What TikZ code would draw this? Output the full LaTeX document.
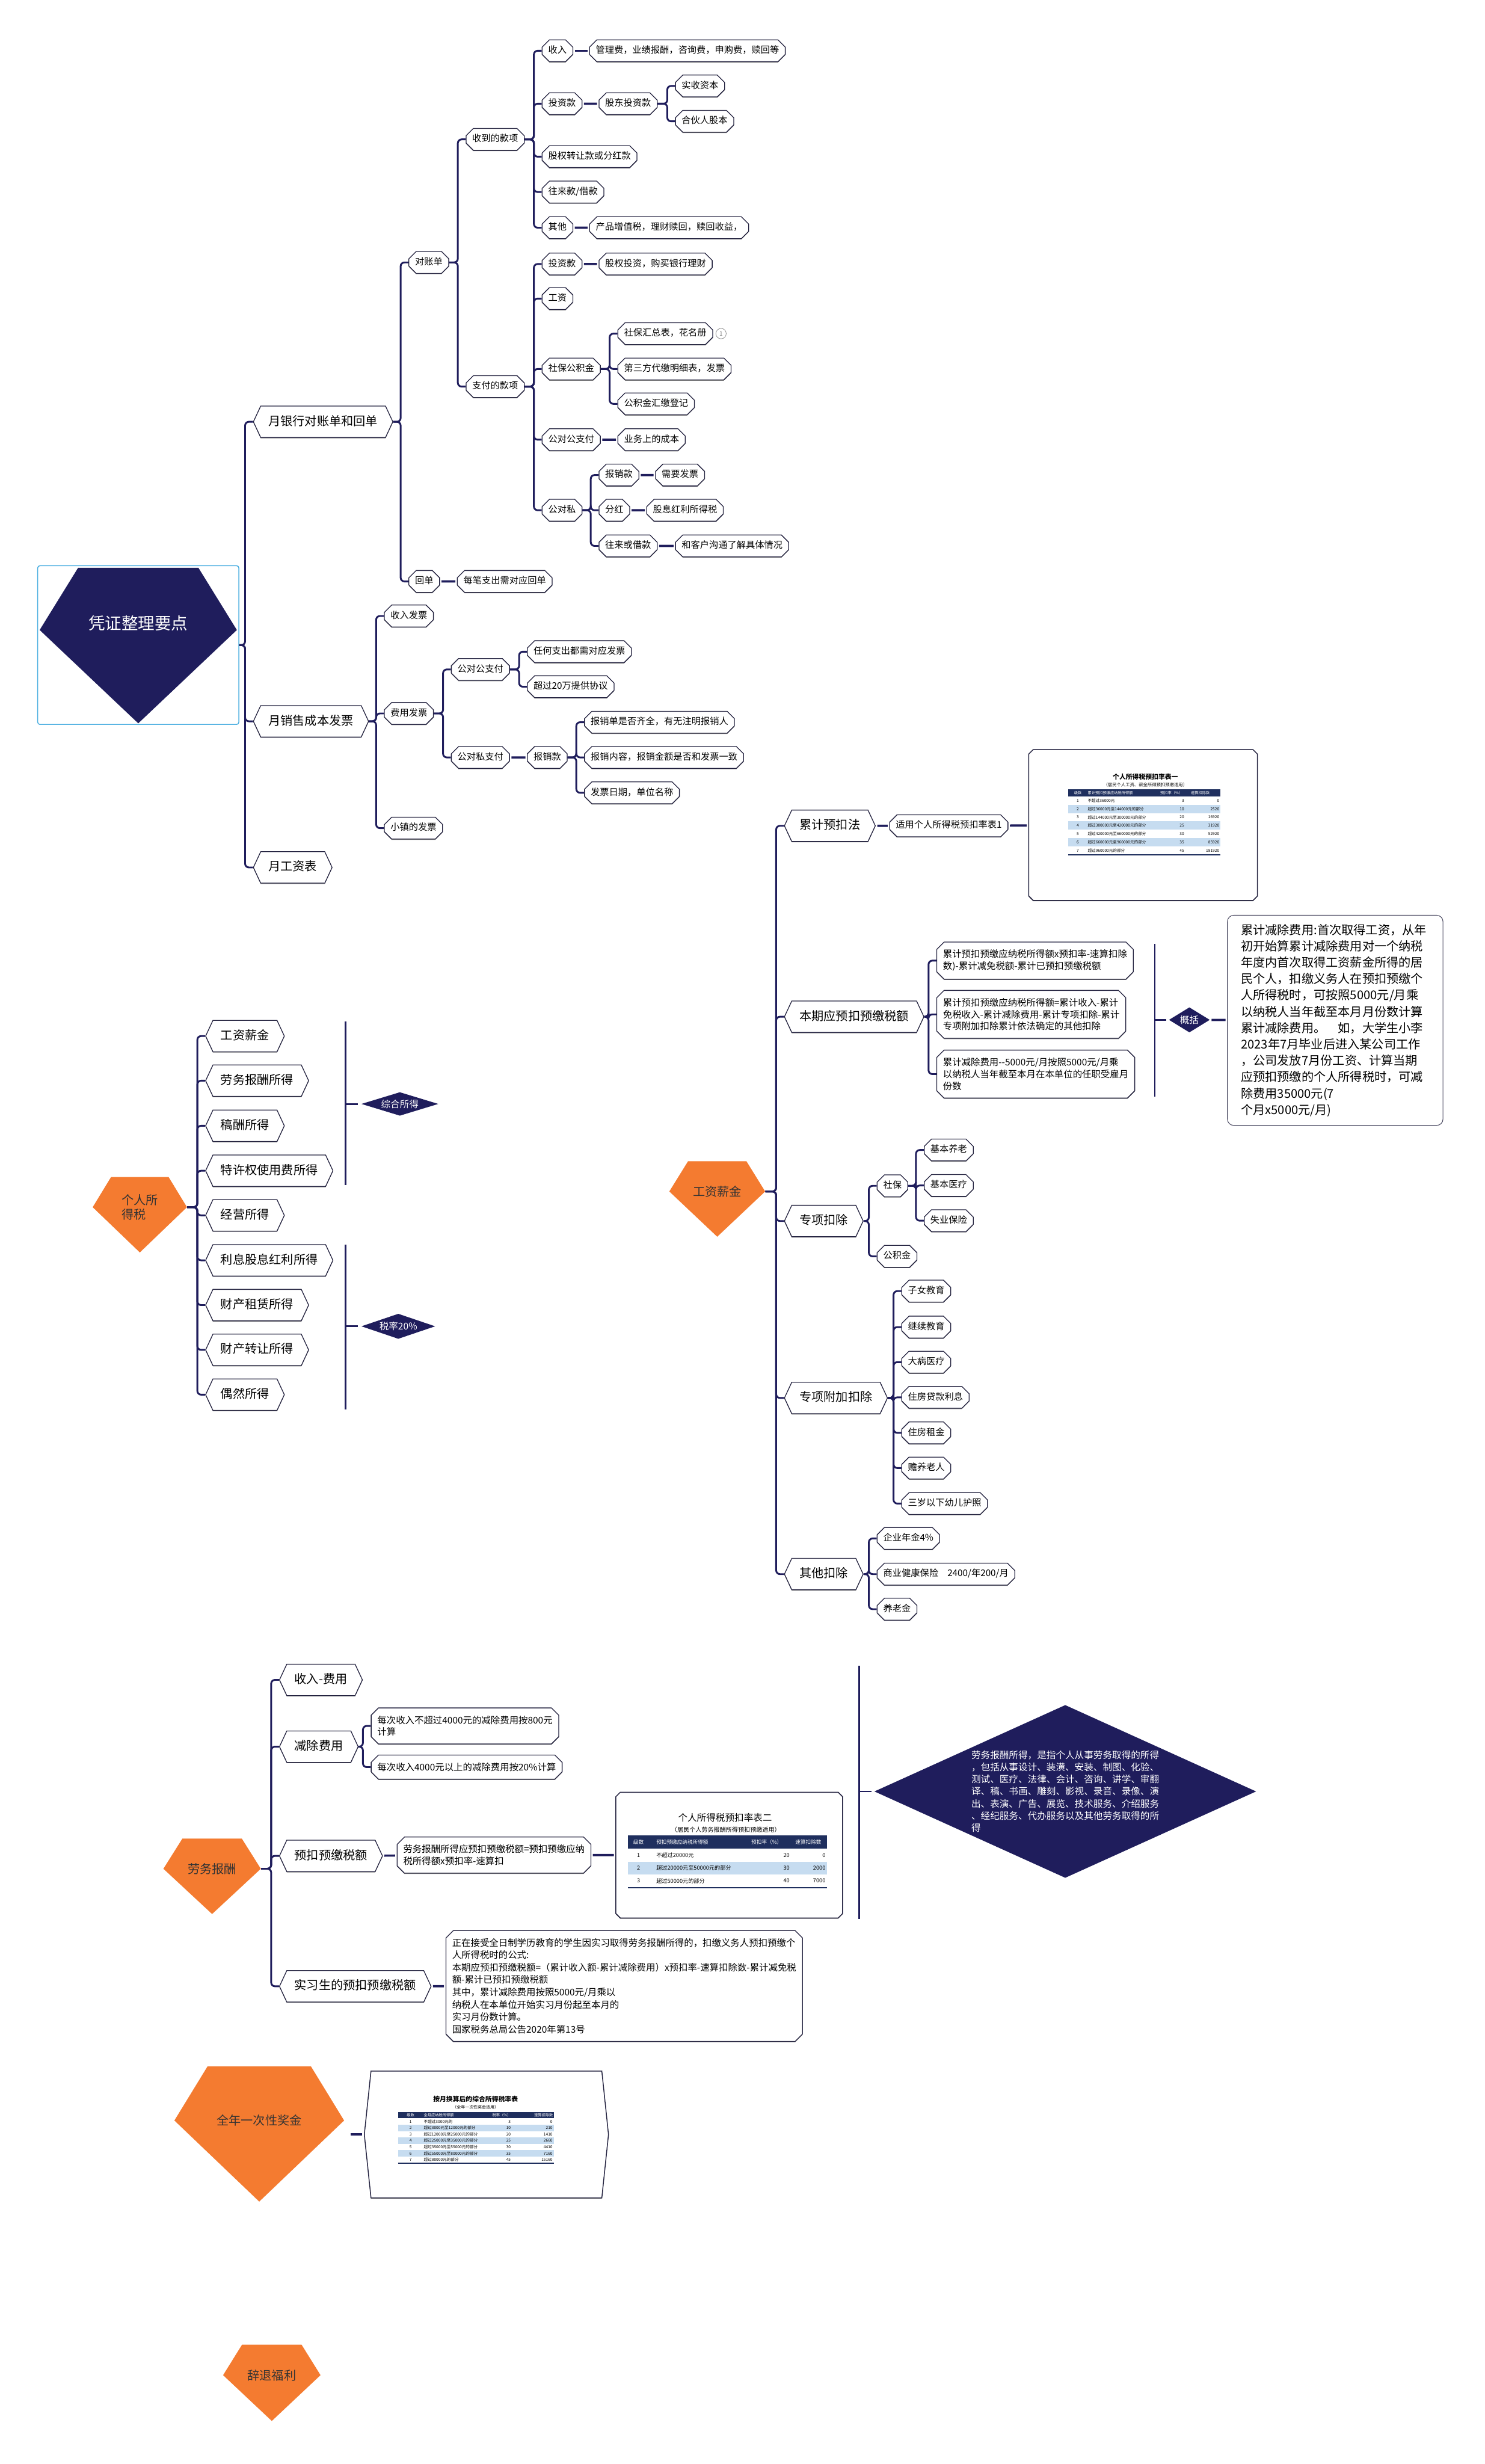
\documentclass[tikz,border=0pt]{standalone}
\usepackage{fontspec}
\setmainfont{Noto Sans CJK SC}
\usetikzlibrary{shapes.misc,shapes.geometric,shapes.symbols,calc,shadows,positioning}
\definecolor{navy}{HTML}{1F1D5C}
\definecolor{gemorange}{HTML}{F47B30}
\definecolor{rootblue}{HTML}{4AAEE0}
\definecolor{rowblue}{HTML}{C6DCF0}
\definecolor{headnavy}{HTML}{1F2F5E}
\definecolor{edge}{HTML}{23223F}
\newcommand{\leaffont}{\fontsize{8.3}{10}\selectfont}
\newcommand{\branchfont}{\fontsize{11}{13}\selectfont}
\newcommand{\boxfont}{\fontsize{8.4}{10.8}\selectfont}
\newcommand{\notefont}{\fontsize{11}{14.8}\selectfont}
\tikzset{
  link/.style={draw=navy, line width=1.6pt, rounded corners=1.2mm},
  dash link/.style={draw=navy, line width=2pt, shorten <=.5mm, shorten >=.5mm},
  node shadow/.style={drop shadow={shadow xshift=0pt, shadow yshift=-.7pt, opacity=.5, fill=black}},
  octo/.style={chamfered rectangle, chamfered rectangle xsep=2.6pt, chamfered rectangle ysep=4pt,
    draw=edge, fill=white, line width=.7pt, anchor=west, node shadow},
  leaf/.style={octo, font=\leaffont, text height=6.2pt, text depth=1.6pt, inner xsep=3pt, inner ysep=2pt, minimum height=6.5mm},
  text box/.style={octo, font=\boxfont, align=left, inner xsep=3pt, inner ysep=3pt},
  branch/.style={signal, signal to=east and west, signal pointer angle=130, draw=edge, fill=white,
    line width=.7pt, font=\branchfont, text height=8.5pt, text depth=2pt, inner xsep=7pt,
    minimum height=10mm, anchor=west, node shadow},
  gem text/.style={inner sep=0pt, minimum height=1mm, font=\branchfont, text=black!80},
  tag/.style={diamond, fill=navy, text=white, font=\fontsize{8.5}{11}\selectfont, inner sep=0pt},
  tab frame/.style={octo, chamfered rectangle sep=2pt, line width=.8pt},
  cell/.style={inner sep=.3pt},
}
% gem: name, centre x, top y, width, height, colour, text style, text
\newcommand{\gem}[8]{%
  \fill[#6] ({#2-0.305*#4},#3) -- ({#2+0.305*#4},#3) -- ({#2+0.5*#4},{#3+0.4*#5})
    -- (#2,{#3+#5}) -- ({#2-0.5*#4},{#3+0.4*#5}) -- cycle;
  \node[gem text, minimum width=#4*0.5mm, #7] (#1) at (#2,{#3+0.4*#5}) {#8};
}
% brace from a parent to its children
\newcommand{\fork}[2]{%
  \foreach \kid in {#2}
    \draw[link] (#1.east) -- ($(\kid.west |- #1.east)+(-5,0)$) |- (\kid.west);
}
\begin{document}
\begin{tikzpicture}[x=0.5mm, y=-0.5mm]
  \useasboundingbox (0,0) rectangle (945,1568);
  \fill[white] (0,0) rectangle (945,1568);

  % ---------- 凭证整理要点
  \node[draw=rootblue, line width=.8pt, rounded corners=2pt, fill=white,
    minimum width=64mm, minimum height=50.5mm] (root) at (88,410.5) {};
  \gem{rootgem}{88}{361.3}{125.5}{99}{navy}{text=white, font=\fontsize{15}{18}\selectfont, yshift=2.1mm}{凭证整理要点}

  \node[branch] (bank) at (161,268.4) {月银行对账单和回单};
  \node[branch] (sales) at (161,459) {月销售成本发票};
  \node[branch] (payroll) at (161,552) {月工资表};
  \fork{root}{bank,sales,payroll}

  \node[leaf] (stmt) at (260,167) {对账单};
  \node[leaf] (receipt) at (260,370) {回单};
  \node[leaf] (receiptnote) at (290.8,370) {每笔支出需对应回单};
  \fork{bank}{stmt,receipt}
  \draw[dash link] (receipt) -- (receiptnote);

  \node[leaf] (recv) at (296.4,88.7) {收到的款项};
  \node[leaf] (paid) at (296.4,246) {支付的款项};
  \fork{stmt}{recv,paid}

  \node[leaf] (recvinc) at (344.8,32.3) {收入};
  \node[leaf] (recvfees) at (375,32.3) {管理费，业绩报酬，咨询费，申购费，赎回等};
  \node[leaf] (recvinv) at (344.8,66) {投资款};
  \node[leaf] (recvholder) at (381,66) {股东投资款};
  \node[leaf] (paidin) at (429.7,54.7) {实收资本};
  \node[leaf] (partner) at (429.7,77.2) {合伙人股本};
  \node[leaf] (recvequity) at (344.8,99.7) {股权转让款或分红款};
  \node[leaf] (recvloan) at (344.8,122.2) {往来款/借款};
  \node[leaf] (recvother) at (344.8,144.9) {其他};
  \node[leaf] (recvmisc) at (375,144.9) {产品增值税，理财赎回，赎回收益，};
  \fork{recv}{recvinc,recvinv,recvequity,recvloan,recvother}
  \fork{recvholder}{paidin,partner}
  \draw[dash link] (recvinc) -- (recvfees);
  \draw[dash link] (recvinv) -- (recvholder);
  \draw[dash link] (recvother) -- (recvmisc);

  \node[leaf] (paidinv) at (344.8,168) {投资款};
  \node[leaf] (paidinvnote) at (381,168) {股权投资，购买银行理财};
  \node[leaf] (paidwage) at (344.8,190) {工资};
  \node[leaf] (paidsocial) at (344.8,234.8) {社保公积金};
  \node[leaf] (socsum) at (393,212.3) {社保汇总表，花名册};
  \node[circle, draw=gray, inner sep=0pt, minimum size=3.3mm, text=gray,
    font=\fontsize{5.5}{6}\selectfont, right=.8mm of socsum] (socnote) {1};
  \node[leaf] (socthird) at (393,234.8) {第三方代缴明细表，发票};
  \node[leaf] (socfund) at (393,257) {公积金汇缴登记};
  \node[leaf] (paidb2b) at (344.8,279.8) {公对公支付};
  \node[leaf] (paidb2bnote) at (393,279.8) {业务上的成本};
  \node[leaf] (paidb2p) at (344.8,324.7) {公对私};
  \node[leaf] (reimb) at (381,302.3) {报销款};
  \node[leaf] (reimbnote) at (417,302.3) {需要发票};
  \node[leaf] (divid) at (381,324.7) {分红};
  \node[leaf] (dividnote) at (411.4,324.7) {股息红利所得税};
  \node[leaf] (loanp) at (381,347.4) {往来或借款};
  \node[leaf] (loannote) at (429.7,347.4) {和客户沟通了解具体情况};
  \fork{paid}{paidinv,paidwage,paidsocial,paidb2b,paidb2p}
  \fork{paidsocial}{socsum,socthird,socfund}
  \fork{paidb2p}{reimb,divid,loanp}
  \draw[dash link] (paidinv) -- (paidinvnote);
  \draw[dash link] (paidb2b) -- (paidb2bnote);
  \draw[dash link] (reimb) -- (reimbnote);
  \draw[dash link] (divid) -- (dividnote);
  \draw[dash link] (loanp) -- (loannote);

  \node[leaf] (incinv) at (244.4,392) {收入发票};
  \node[leaf] (costinv) at (244.4,454) {费用发票};
  \node[leaf] (towninv) at (244.4,527) {小镇的发票};
  \node[leaf] (costb2b) at (287,426) {公对公支付};
  \node[leaf] (costb2p) at (287,482) {公对私支付};
  \node[leaf] (anyexp) at (335.4,414.7) {任何支出都需对应发票};
  \node[leaf] (overlimit) at (335.4,437) {超过20万提供协议};
  \node[leaf] (costreimb) at (335.4,482) {报销款};
  \node[leaf] (chkform) at (371.8,459.6) {报销单是否齐全，有无注明报销人};
  \node[leaf] (chkamount) at (371.8,482) {报销内容，报销金额是否和发票一致};
  \node[leaf] (chkdate) at (371.8,504.5) {发票日期，单位名称};
  \fork{sales}{incinv,costinv,towninv}
  \fork{costinv}{costb2b,costb2p}
  \fork{costb2b}{anyexp,overlimit}
  \fork{costreimb}{chkform,chkamount,chkdate}
  \draw[dash link] (costb2p) -- (costreimb);

  % ---------- 个人所得税
  \gem{iit}{89}{749}{60}{48}{gemorange}{align=left}{个人所\\得税}
  \node[branch] (itwage) at (130.6,659.3) {工资薪金};
  \node[branch] (itservice) at (130.6,687.7) {劳务报酬所得};
  \node[branch] (itroyalty) at (130.6,716.4) {稿酬所得};
  \node[branch] (itfranchise) at (130.6,745) {特许权使用费所得};
  \node[branch] (itbusiness) at (130.6,773.4) {经营所得};
  \node[branch] (itinterest) at (130.6,802) {利息股息红利所得};
  \node[branch] (itlease) at (130.6,830.5) {财产租赁所得};
  \node[branch] (ittransfer) at (130.6,859) {财产转让所得};
  \node[branch] (itchance) at (130.6,887.5) {偶然所得};
  \fork{iit}{itwage,itservice,itroyalty,itfranchise,itbusiness,itinterest,itlease,ittransfer,itchance}

  \node[tag, minimum width=24.5mm, minimum height=7.5mm, aspect=3.3] (comprehensive) at (254.5,702.5) {综合所得};
  \node[tag, minimum width=23.5mm, minimum height=8mm, aspect=3] (flatrate) at (253.5,844) {税率20\%};
  \coordinate (combtop) at (220,650);
  \coordinate (combbot) at (220,754);
  \coordinate (flattop) at (220,792);
  \coordinate (flatbot) at (220,897);
  \draw[link] (combtop) -- (combbot);
  \draw[link, shorten >=1mm] (combtop |- comprehensive.west) -- (comprehensive.west);
  \draw[link] (flattop) -- (flatbot);
  \draw[link, shorten >=1mm] (flattop |- flatrate.west) -- (flatrate.west);

  % ---------- 工资薪金
  \gem{wage}{456.5}{739}{61}{48}{gemorange}{}{工资薪金}
  \node[branch] (cumul) at (499,525.5) {累计预扣法};
  \node[branch] (current) at (499,647) {本期应预扣预缴税额};
  \node[branch] (special) at (499,777) {专项扣除};
  \node[branch] (extra) at (499,889.6) {专项附加扣除};
  \node[branch] (otherded) at (499,1001.7) {其他扣除};
  \fork{wage}{cumul,current,special,extra,otherded}

  \node[leaf] (cumulnote) at (566,525.5) {适用个人所得税预扣率表1};
  \node[tab frame, minimum width=72.75mm, minimum height=48mm] (ratea) at (654.5,525) {};
  \draw[dash link] (cumul) -- (cumulnote);
  \draw[dash link] (cumulnote) -- (ratea);
  % table one
  \node[cell, font=\fontsize{5.9}{6}\selectfont\bfseries] (rateatitle) at (729,494.5) {个人所得税预扣率表一};
  \node[cell, font=\fontsize{4}{4.5}\selectfont] (rateasub) at (729,499.6) {（居民个人工资、薪金所得预扣预缴适用）};
  \fill[headnavy] (680,502.3) rectangle (776.7,506.8);
  \begin{scope}[every node/.style={cell, text=white, font=\fontsize{3.4}{4}\selectfont}]
    \node (rateah1) at (686,504.6) {级数};
    \node[anchor=west] (rateah2) at (692,504.6) {累计预扣预缴应纳税所得额};
    \node (rateah3) at (745.6,504.6) {预扣率（\%）};
    \node (rateah4) at (764,504.6) {速算扣除数};
  \end{scope}
  \foreach \i/\lab/\r/\d in {1/不超过36000元/3/0, 2/超过36000元至144000元的部分/10/2520,
      3/超过144000元至300000元的部分/20/16920, 4/超过300000元至420000元的部分/25/31920,
      5/超过420000元至660000元的部分/30/52920, 6/超过660000元至960000元的部分/35/85920,
      7/超过960000元的部分/45/181920} {
    \ifodd\i\else\fill[rowblue] (680,{506.8+(\i-1)*5.3}) rectangle (776.7,{506.8+\i*5.3});\fi
    \begin{scope}[every node/.style={cell, font=\fontsize{3.6}{4}\selectfont}]
      \node (ratea-\i-n) at (686,{506.8+(\i-0.5)*5.3}) {\i};
      \node[anchor=west] (ratea-\i-l) at (692,{506.8+(\i-0.5)*5.3}) {\lab};
      \node[anchor=east] (ratea-\i-r) at (754,{506.8+(\i-0.5)*5.3}) {\r};
      \node[anchor=east] (ratea-\i-d) at (776.4,{506.8+(\i-0.5)*5.3}) {\d};
    \end{scope}
  }
  \draw[headnavy, line width=.8pt] (680,544) -- (776.7,544);

  \node[text box] (curA) at (596,611.3) {累计预扣预缴应纳税所得额x预扣率-速算扣除\\数)-累计减免税额-累计已预扣预缴税额};
  \node[text box] (curB) at (596,645.5) {累计预扣预缴应纳税所得额=累计收入-累计\\免税收入-累计减除费用-累计专项扣除-累计\\专项附加扣除累计依法确定的其他扣除};
  \node[text box] (curC) at (596,683.5) {累计减除费用-{}-5000元/月按照5000元/月乘\\以纳税人当年截至本月在本单位的任职受雇月\\份数};
  \fork{current}{curA,curB,curC}
  \coordinate (sumtop) at (735,600.6);
  \coordinate (sumbot) at (735,698);
  \draw[link] (sumtop) -- (sumbot);
  \node[tag, minimum width=13mm, minimum height=8mm, aspect=1.6] (summary) at (757,649) {概括};
  \draw[link, shorten >=.8mm] (sumtop |- summary.west) -- (summary.west);
  \node[draw=edge!80, line width=.6pt, rounded corners=2mm, fill=white, anchor=west, align=left,
    text width=60mm, inner xsep=4.3mm, inner ysep=2.8mm, font=\notefont] (deductnote) at (781,649.3)
    {累计减除费用:首次取得工资，从年\\初开始算累计减除费用对一个纳税\\年度内首次取得工资薪金所得的居\\民个人，扣缴义务人在预扣预缴个\\人所得税时，可按照5000元/月乘\\以纳税人当年截至本月月份数计算\\累计减除费用。\quad 如，大学生小李\\2023年7月毕业后进入某公司工作\\，公司发放7月份工资、计算当期\\应预扣预缴的个人所得税时，可减\\除费用35000元(7\\个月x5000元/月)};
  \draw[dash link] (summary) -- (deductnote);

  \node[leaf] (social) at (558,754.6) {社保};
  \node[leaf] (fund) at (558,799.5) {公积金};
  \node[leaf] (pension) at (588,731.8) {基本养老};
  \node[leaf] (medical) at (588,754.4) {基本医疗};
  \node[leaf] (unemploy) at (588,776.8) {失业保险};
  \fork{special}{social,fund}
  \fork{social}{pension,medical,unemploy}

  \node[leaf] (kids) at (573.7,821.6) {子女教育};
  \node[leaf] (contedu) at (573.7,844.5) {继续教育};
  \node[leaf] (illness) at (573.7,866.8) {大病医疗};
  \node[leaf] (mortgage) at (573.7,889.2) {住房贷款利息};
  \node[leaf] (rent) at (573.7,911.8) {住房租金};
  \node[leaf] (elders) at (573.7,934.2) {赡养老人};
  \node[leaf] (infant) at (573.7,956.8) {三岁以下幼儿护照};
  \fork{extra}{kids,contedu,illness,mortgage,rent,elders,infant}

  \node[leaf] (annuity) at (558,979) {企业年金4\%};
  \node[leaf] (health) at (558,1001.7) {商业健康保险\quad 2400/年200/月};
  \node[leaf] (retire) at (558,1024) {养老金};
  \fork{otherded}{annuity,health,retire}

  % ---------- 劳务报酬
  \gem{service}{135}{1170}{62}{48}{gemorange}{}{劳务报酬}
  \node[branch] (svcincome) at (177.6,1069) {收入-费用};
  \node[branch] (svcdeduct) at (177.6,1111.5) {减除费用};
  \node[branch] (svcwithhold) at (177.6,1181) {预扣预缴税额};
  \node[branch] (svcintern) at (177.6,1264) {实习生的预扣预缴税额};
  \fork{service}{svcincome,svcdeduct,svcwithhold,svcintern}

  \node[text box] (dedlow) at (236,1098.3) {每次收入不超过4000元的减除费用按800元\\计算};
  \node[text box] (dedhigh) at (236,1124.5) {每次收入4000元以上的减除费用按20\%计算};
  \fork{svcdeduct}{dedlow,dedhigh}

  \node[text box] (svcformula) at (252.5,1180.5) {劳务报酬所得应预扣预缴税额=预扣预缴应纳\\税所得额x预扣率-速算扣};
  \node[tab frame, minimum width=72.15mm, minimum height=40mm] (rateb) at (391.7,1180.5) {};
  \draw[dash link] (svcwithhold) -- (svcformula);
  \draw[dash link] (svcformula) -- (rateb);
  % table two
  \node[cell, font=\fontsize{8.5}{9}\selectfont] (ratebtitle) at (461.5,1156.5) {个人所得税预扣率表二};
  \node[cell, font=\fontsize{5.5}{6}\selectfont] (ratebsub) at (462,1164.3) {（居民个人劳务报酬所得预扣预缴适用）};
  \fill[headnavy] (399.8,1168) rectangle (526.2,1176.4);
  \begin{scope}[every node/.style={cell, text=white, font=\fontsize{4.7}{5}\selectfont}]
    \node (ratebh1) at (406.4,1172.2) {级数};
    \node[anchor=west] (ratebh2) at (417.4,1172.2) {预扣预缴应纳税所得额};
    \node (ratebh3) at (488,1172.2) {预扣率（\%）};
    \node (ratebh4) at (514.5,1172.2) {速算扣除数};
  \end{scope}
  \foreach \i/\lab/\r/\d in {1/不超过20000元/20/0, 2/超过20000元至50000元的部分/30/2000,
      3/超过50000元的部分/40/7000} {
    \ifodd\i\else\fill[rowblue] (399.8,{1176.4+(\i-1)*8.2}) rectangle (526.2,{1176.4+\i*8.2});\fi
    \begin{scope}[every node/.style={cell, font=\fontsize{5}{5.5}\selectfont}]
      \node (rateb-\i-n) at (406.4,{1176.4+(\i-0.5)*8.2}) {\i};
      \node[anchor=west] (rateb-\i-l) at (417.4,{1176.4+(\i-0.5)*8.2}) {\lab};
      \node (rateb-\i-r) at (500.6,{1176.4+(\i-0.5)*8.2}) {\r};
      \node[anchor=east] (rateb-\i-d) at (525.7,{1176.4+(\i-0.5)*8.2}) {\d};
    \end{scope}
  }
  \draw[headnavy, line width=.9pt] (399.8,1201.2) -- (526.2,1201.2);

  \node[text box, font=\fontsize{8.4}{11.2}\selectfont] (internnote) at (283.6,1263.8) {正在接受全日制学历教育的学生因实习取得劳务报酬所得的，扣缴义务人预扣预缴个\\人所得税时的公式:\\本期应预扣预缴税额=（累计收入额-累计减除费用）x预扣率-速算扣除数-累计减免税\\额-累计已预扣预缴税额\\其中，累计减除费用按照5000元/月乘以\\纳税人在本单位开始实习月份起至本月的\\实习月份数计算。\\国家税务总局公告2020年第13号};
  \draw[dash link] (svcintern) -- (internnote);

  \node[tag, minimum width=121.5mm, minimum height=55mm, aspect=2.2, align=left] (servicedef) at (678,1140)
    {劳务报酬所得，是指个人从事劳务取得的所得\\，包括从事设计、装潢、安装、制图、化验、\\测试、医疗、法律、会计、咨询、讲学、审翻\\译、稿、书画、雕刻、影视、录音、录像、演\\出、表演、广告、展览、技术服务、介绍服务\\、经纪服务、代办服务以及其他劳务取得的所\\得};
  \coordinate (svctop) at (547,1060);
  \coordinate (svcbot) at (547,1221);
  \draw[link] (svctop) -- (svcbot);
  \draw[link, shorten >=.8mm] (svctop |- servicedef.west) -- (servicedef.west);

  % ---------- 全年一次性奖金
  \gem{bonus}{165}{1315}{108}{86}{gemorange}{}{全年一次性奖金}
  \node[signal, signal to=east and west, signal pointer angle=168, draw=edge, fill=white,
    line width=.8pt, minimum width=77.7mm, minimum height=40.3mm, anchor=west, inner sep=0pt,
    node shadow] (ratec) at (231.6,1358.3) {};
  \draw[dash link] ([xshift=1.5mm]bonus.east |- ratec.west) -- (ratec.west);
  % table three
  \node[cell, font=\fontsize{5.9}{6}\selectfont\bfseries] (ratectitle) at (302.7,1335.6) {按月换算后的综合所得税率表};
  \node[cell, font=\fontsize{3.8}{4}\selectfont] (ratecsub) at (302.7,1341) {（全年一次性奖金适用）};
  \fill[headnavy] (253.3,1343.9) rectangle (352.4,1348);
  \begin{scope}[every node/.style={cell, text=white, font=\fontsize{3.4}{4}\selectfont}]
    \node (ratech1) at (261.3,1346) {级数};
    \node[anchor=west] (ratech2) at (269.4,1346) {全月应纳税所得额};
    \node (ratech3) at (319.3,1346) {税率（\%）};
    \node (ratech4) at (346,1346) {速算扣除数};
  \end{scope}
  \foreach \i/\lab/\r/\d in {1/不超过3000元的/3/0, 2/超过3000元至12000元的部分/10/210,
      3/超过12000元至25000元的部分/20/1410, 4/超过25000元至35000元的部分/25/2660,
      5/超过35000元至55000元的部分/30/4410, 6/超过55000元至80000元的部分/35/7160,
      7/超过80000元的部分/45/15160} {
    \ifodd\i\else\fill[rowblue] (253.3,{1348+(\i-1)*4.06}) rectangle (352.4,{1348+\i*4.06});\fi
    \begin{scope}[every node/.style={cell, font=\fontsize{3.6}{4}\selectfont}]
      \node (ratec-\i-n) at (261.3,{1348+(\i-0.5)*4.06}) {\i};
      \node[anchor=west] (ratec-\i-l) at (269.4,{1348+(\i-0.5)*4.06}) {\lab};
      \node[anchor=east] (ratec-\i-r) at (325.4,{1348+(\i-0.5)*4.06}) {\r};
      \node[anchor=east] (ratec-\i-d) at (352,{1348+(\i-0.5)*4.06}) {\d};
    \end{scope}
  }
  \draw[headnavy, line width=.8pt] (253.3,1376.6) -- (352.4,1376.6);

  % ---------- 辞退福利
  \gem{severance}{173}{1492}{62}{48.6}{gemorange}{}{辞退福利}
\end{tikzpicture}
\end{document}
